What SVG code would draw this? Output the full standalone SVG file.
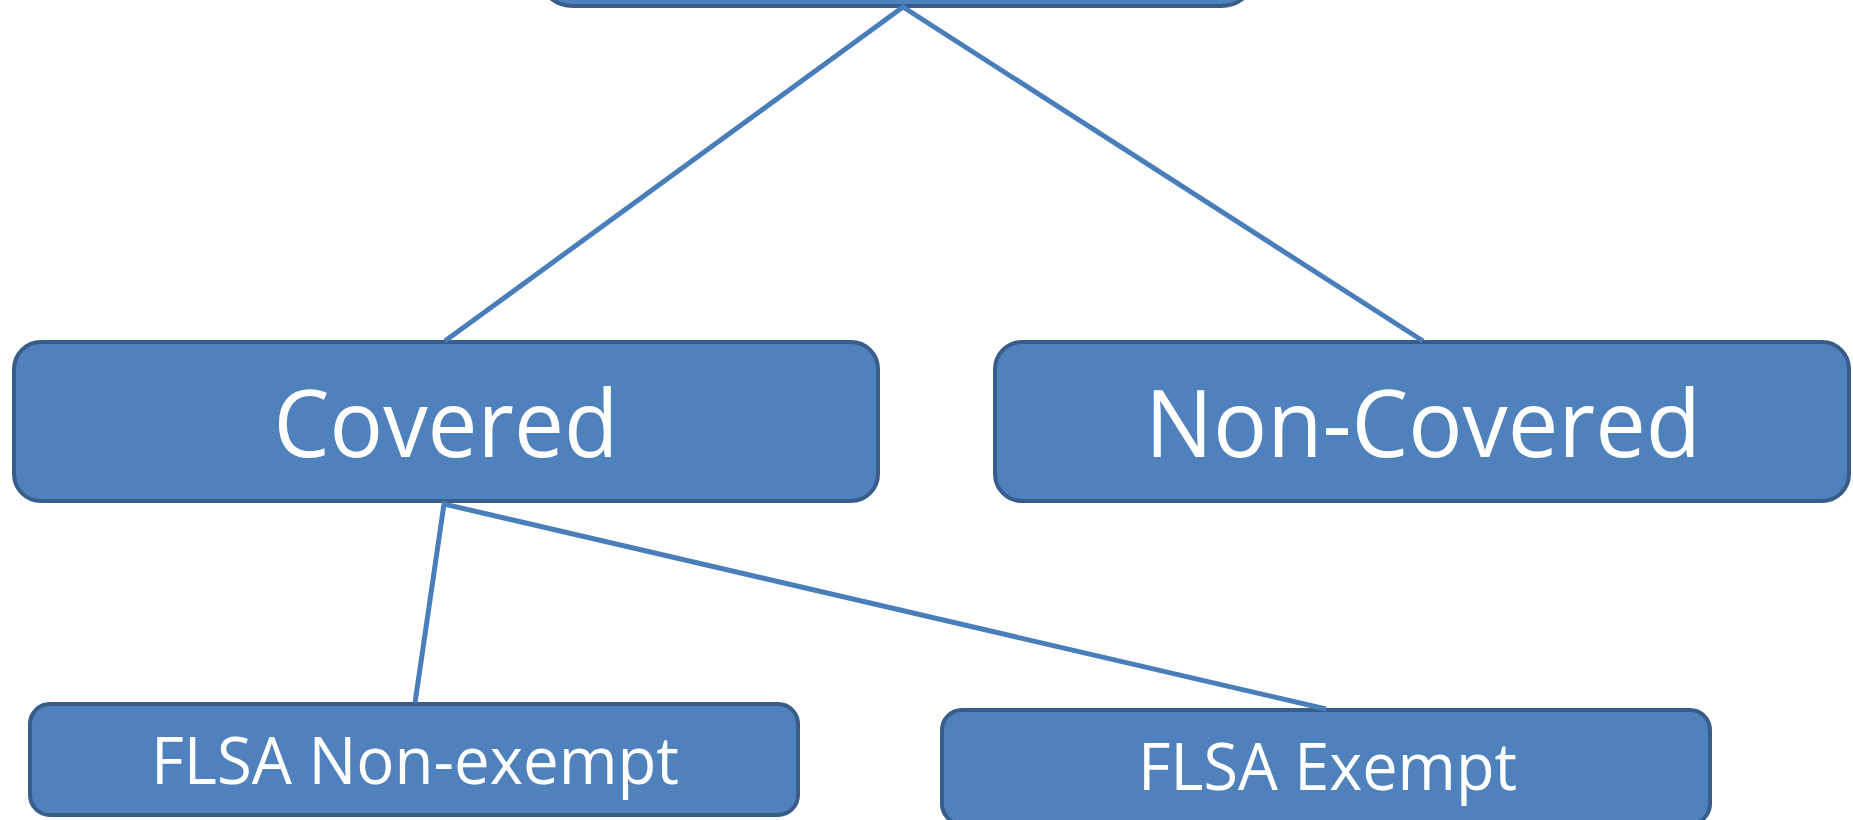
<svg xmlns="http://www.w3.org/2000/svg" width="1853" height="820" viewBox="0 0 1853 820">
<style>
.box{fill:#4F81BD;stroke:#385D8A;stroke-width:4}
.lbl{fill:#FFFFFF;font-family:"Open Sans","Noto Sans","Liberation Sans",sans-serif;text-anchor:middle}
.big{font-size:94px}
.small{font-size:66px}
.conn{stroke:#4A7EBB;stroke-width:5;fill:none;stroke-linecap:butt}
</style>
<rect width="1853" height="820" fill="#FFFFFF"/>
<g id="node-top">
<rect class="box" x="537" y="-120" width="720" height="126" rx="36"/>
</g>
<g id="node-covered">
<rect class="box" x="14" y="342" width="864" height="159" rx="27"/>
<text class="lbl big" x="446" y="457" textLength="345" lengthAdjust="spacingAndGlyphs">Covered</text>
</g>
<g id="node-noncovered">
<rect class="box" x="995" y="342" width="854" height="159" rx="27"/>
<text class="lbl big" x="1423" y="457" textLength="556" lengthAdjust="spacingAndGlyphs">Non-Covered</text>
</g>
<g id="node-nonexempt">
<rect class="box" x="30" y="704" width="768" height="111" rx="20"/>
<text class="lbl small" x="415" y="784" textLength="528" lengthAdjust="spacingAndGlyphs">FLSA Non-exempt</text>
</g>
<g id="node-exempt">
<rect class="box" x="942" y="710" width="768" height="114" rx="20"/>
<text class="lbl small" x="1327.5" y="790" textLength="379" lengthAdjust="spacingAndGlyphs">FLSA Exempt</text>
</g>
<g id="connectors">
<polyline class="conn" points="445,341 903,7 1423,341"/>
<polyline class="conn" points="415,703 444,504 1326,709"/>
</g>
</svg>
